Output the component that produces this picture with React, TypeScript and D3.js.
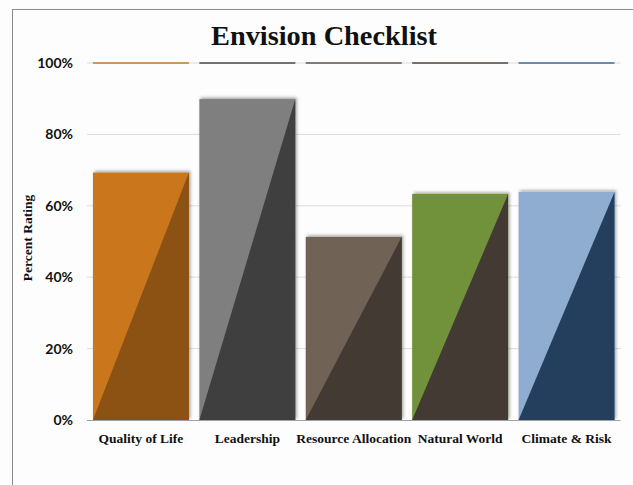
import React from "react";
import * as d3 from "d3";

const categories = ["Quality of Life", "Leadership", "Resource Allocation", "Natural World", "Climate & Risk"];
const values = [69.3, 89.9, 51.3, 63.3, 63.9];
const lightColors = ["#c9761a", "#7f7f7f", "#706354", "#71913a", "#8fadd1"];
const darkColors = ["#8b5214", "#3f3f3f", "#433a33", "#433a33", "#243f5e"];
const topLineColors = ["#c07a30", "#4a4a4a", "#62554c", "#55473f", "#46689a"];
const yTicks = [0, 20, 40, 60, 80, 100];

const W = 633;
const H = 485;
const plotLeft = 87;
const plotRight = 620.5;
const plotTop = 63;
const plotBottom = 420;

export default function App() {
  const x = d3
    .scaleBand<string>()
    .domain(categories)
    .range([plotLeft, plotRight])
    .paddingInner(0.098)
    .paddingOuter(0.056);
  const y = d3.scaleLinear().domain([0, 100]).range([plotBottom, plotTop]);
  const bw = x.bandwidth();

  return (
    <svg
      width={W}
      height={H}
      style={{ position: "absolute", left: 0, top: 0, background: "#ffffff" }}
    >
      <defs>
        <filter id="shadow" x="-20%" y="-20%" width="140%" height="140%">
          <feDropShadow dx="1.5" dy="-1.5" stdDeviation="1.8" floodColor="#000" floodOpacity="0.35" />
        </filter>
      </defs>
      <rect x={0} y={0} width={W} height={H} fill="#fdfdfd" />
      <rect x={12.5} y={9.5} width={W + 20} height={H + 20} fill="none" stroke="#8a8a8a" strokeWidth={1} />

      <text
        x={324}
        y={45}
        textAnchor="middle"
        fontFamily="'Liberation Serif', 'DejaVu Serif', serif"
        fontWeight="bold"
        fontSize={27}
        textLength={226}
        lengthAdjust="spacingAndGlyphs"
        fill="#111"
      >
        Envision Checklist
      </text>

      {yTicks.map((t) => (
        <g key={t}>
          {t > 0 && (
            <line
              x1={plotLeft}
              x2={plotRight}
              y1={y(t)}
              y2={y(t)}
              stroke="#dcdcdc"
              strokeWidth={1}
            />
          )}
          <text
            x={73}
            y={y(t) + 5}
            textAnchor="end"
            fontFamily="Lato, 'Liberation Sans', sans-serif"
            fontWeight="bold"
            fontSize={14}
            fill="#111"
          >
            {t + "%"}
          </text>
        </g>
      ))}

      {categories.map((c, i) => {
        const x0 = x(c)!;
        const x1 = x0 + bw;
        const yt = y(values[i]);
        const yb = y(0);
        return (
          <g key={c}>
            <line
              x1={x0}
              x2={x1}
              y1={y(100)}
              y2={y(100)}
              stroke={topLineColors[i]}
              strokeWidth={1.5}
            />
            <g filter="url(#shadow)">
              <rect x={x0} y={yt} width={bw} height={yb - yt} fill={lightColors[i]} />
            </g>
            <path
              d={`M${x0},${yb}L${x1},${yt}L${x1},${yb}Z`}
              fill={darkColors[i]}
            />
            <text
              x={x0 + bw / 2}
              y={443}
              textAnchor="middle"
              fontFamily="'Liberation Serif', 'DejaVu Serif', serif"
              fontWeight="bold"
              fontSize={13.5}
              fill="#111"
            >
              {c}
            </text>
          </g>
        );
      })}

      <line x1={plotLeft} x2={plotRight} y1={plotBottom + 0.5} y2={plotBottom + 0.5} stroke="#a0a0a0" strokeWidth={1} />

      <text
        transform={`translate(32, 238) rotate(-90)`}
        textAnchor="middle"
        fontFamily="'Liberation Serif', 'DejaVu Serif', serif"
        fontWeight="bold"
        fontSize={13.5}
        fill="#111"
      >
        Percent Rating
      </text>
    </svg>
  );
}
